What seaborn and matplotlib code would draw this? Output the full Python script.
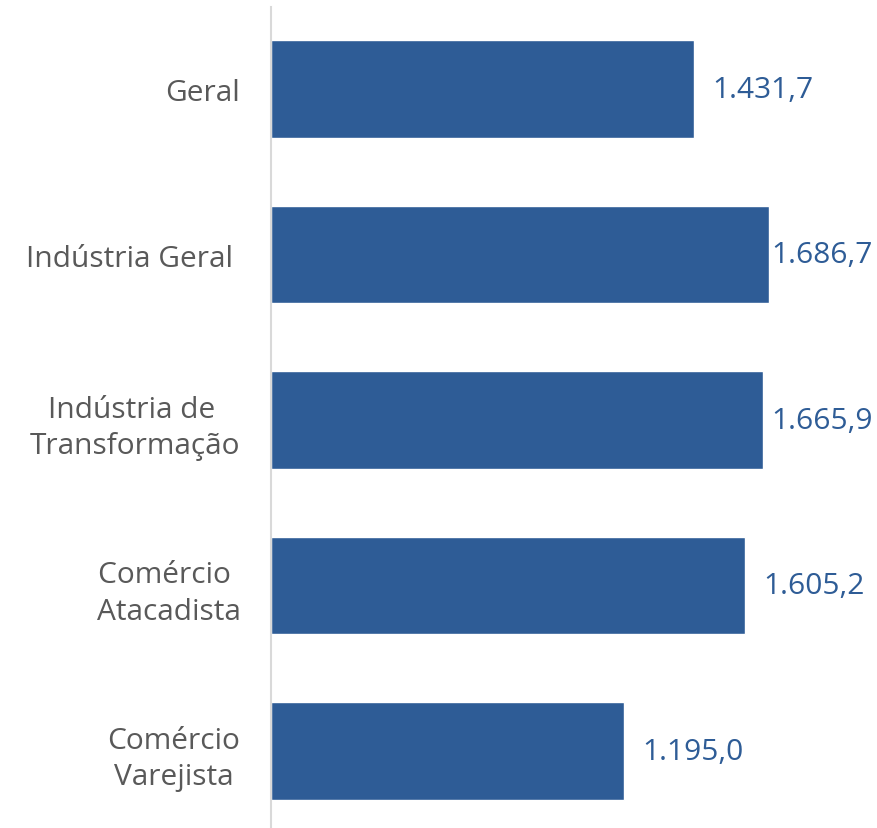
import matplotlib
matplotlib.use("Agg")
import matplotlib.pyplot as plt
import seaborn as sns
import pandas as pd

# data
categories = ["Geral", "Indústria Geral ", "Indústria de \nTransformação",
              "Comércio \nAtacadista", "Comércio\nVarejista"]
values = [1431.7, 1686.7, 1665.9, 1605.2, 1195.0]
value_labels = ["1.431,7", "1.686,7", "1.665,9", "1.605,2", "1.195,0"]

bar_color = "#2E5C96"
text_gray = "#595959"

sns.set_style("white")
plt.rcParams['font.family'] = ['Open Sans', 'DejaVu Sans']

df = pd.DataFrame({"cat": categories, "val": values})

fig = plt.figure(figsize=(8.77, 8.29), dpi=100)
ax = fig.add_axes([271 / 877, 0.0, 1 - 271 / 877, 1 - 8 / 829])

sns.barplot(data=df, x="val", y="cat", color=bar_color, width=0.59,
            saturation=1, ax=ax)

ax.set_xlim(0, 2051)
ax.set_ylim(4.465, -0.496)

# value labels, pushed left where they would run off the edge
for i, (v, lab) in enumerate(zip(values, value_labels)):
    x = min(v + 61, 1692)
    ax.text(x, i, lab, va="center", ha="left", fontsize=21.5, color=bar_color)

ax.set_xlabel("")
ax.set_ylabel("")
ax.set_xticks([])
ax.tick_params(axis="y", length=0, pad=22, labelsize=21.5, labelcolor=text_gray)
for t in ax.get_yticklabels():
    t.set_multialignment("center")
    t.set_linespacing(1.35)

for s in ["top", "right", "bottom"]:
    ax.spines[s].set_visible(False)
ax.spines["left"].set_color("#D9D9D9")
ax.spines["left"].set_linewidth(1.5)

fig.savefig("out.png", dpi=100)
